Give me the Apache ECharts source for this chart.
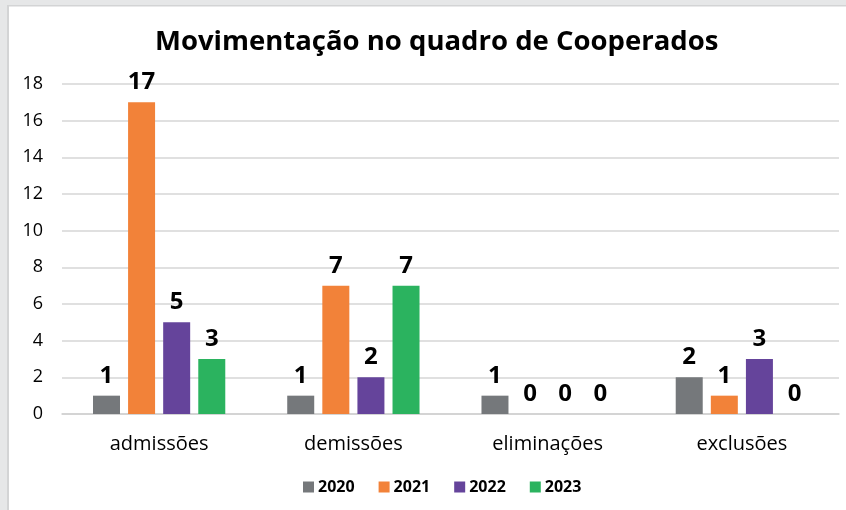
<!DOCTYPE html>
<html>
<head>
<meta charset="utf-8">
<script src="https://cdn.jsdelivr.net/npm/echarts@6/dist/echarts.min.js"></script>
<style>
html,body{margin:0;padding:0;background:#fff;}
#chart{width:846px;height:510px;}
</style>
</head>
<body>
<div id="chart"></div>
<script>
const title = 'Movimentação no quadro de Cooperados';
const categories = ['admissões', 'demissões', 'eliminações', 'exclusões'];
const seriesNames = ['2020', '2021', '2022', '2023'];
const values2020 = [1, 1, 1, 2];
const values2021 = [17, 7, 0, 1];
const values2022 = [5, 2, 0, 3];
const values2023 = [3, 7, 0, 0];
const yTicks = { min: 0, max: 18, interval: 2 };
const colors = ['#75787b', '#f28239', '#65449b', '#2bb35f'];

const allValues = [values2020, values2021, values2022, values2023];
const chart = echarts.init(document.getElementById('chart'), null, { renderer: 'canvas' });
const labelFont = 'Open Sans';

chart.setOption({
  backgroundColor: '#ffffff',
  animation: false,
  graphic: [
    { type: 'rect', left: 0, top: 0, shape: { width: 846, height: 5 }, style: { fill: '#e6e7e8' }, z: 100 },
    { type: 'rect', left: 0, top: 0, shape: { width: 7, height: 510 }, style: { fill: '#e6e7e8' }, z: 100 },
    { type: 'rect', left: 7, top: 5, shape: { width: 2, height: 505 }, style: { fill: '#d3d4d5' }, z: 100 },
    { type: 'rect', left: 7, top: 5, shape: { width: 839, height: 1.5 }, style: { fill: '#d3d4d5' }, z: 100 }
  ],
  title: {
    text: title,
    left: 150,
    top: 23,
    textStyle: { fontFamily: labelFont, fontWeight: 'bold', fontSize: 27.5, color: '#000' }
  },
  legend: {
    data: seriesNames,
    bottom: 10,
    left: 298,
    itemWidth: 11,
    itemHeight: 11,
    itemGap: 24,
    icon: 'rect',
    textStyle: { fontFamily: labelFont, fontWeight: 'bold', fontSize: 16, color: '#000', padding: [0, 0, 0, -1] }
  },
  grid: { left: 62, right: 7, top: 84, bottom: 96, containLabel: false },
  xAxis: {
    type: 'category',
    data: categories,
    axisTick: { show: false },
    axisLine: { lineStyle: { color: '#d0d0d0', width: 1.5 } },
    axisLabel: { fontFamily: labelFont, fontSize: 20, color: '#000', margin: 20 }
  },
  yAxis: {
    type: 'value',
    min: yTicks.min, max: yTicks.max, interval: yTicks.interval,
    axisLine: { show: false },
    axisTick: { show: false },
    splitLine: { lineStyle: { color: '#d6d6d6', width: 1.5 } },
    axisLabel: { fontFamily: labelFont, fontSize: 18, color: '#000', margin: 19 }
  },
  series: seriesNames.map((name, i) => ({
    name,
    type: 'bar',
    data: allValues[i],
    barWidth: 27,
    barGap: '30%',
    itemStyle: { color: colors[i] },
    label: {
      show: true,
      position: 'top',
      distance: 8,
      fontFamily: labelFont,
      fontWeight: 'bold',
      fontSize: 24,
      color: '#000'
    }
  }))
});
</script>
</body>
</html>
